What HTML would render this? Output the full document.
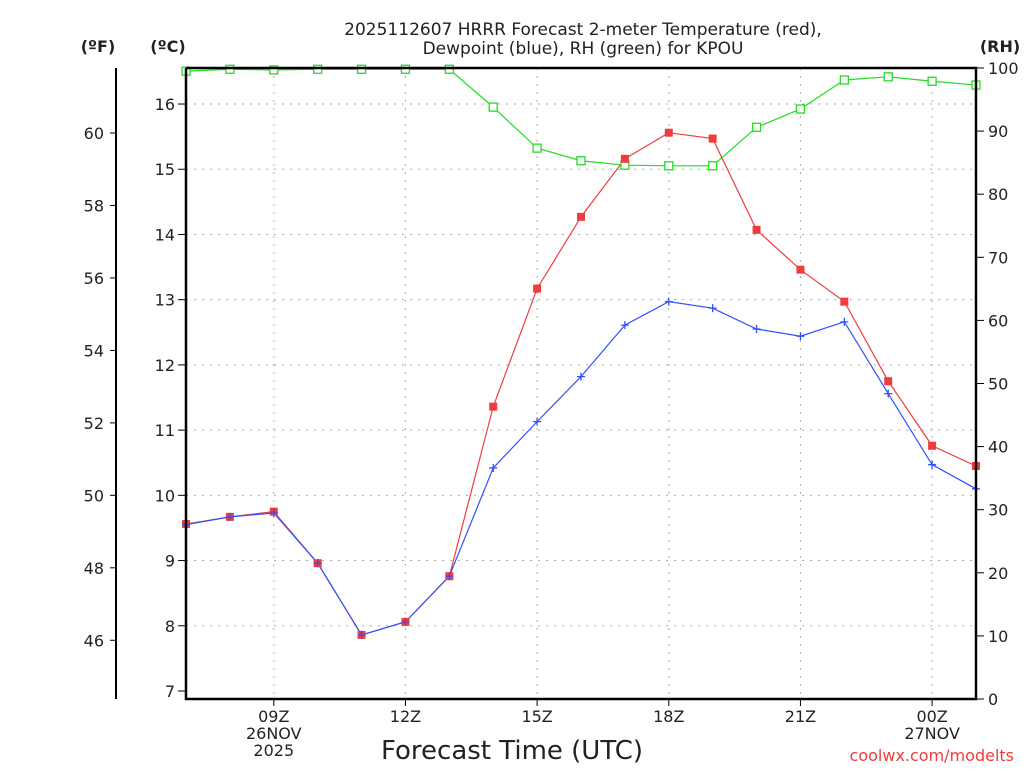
<!DOCTYPE html>
<html><head><meta charset="utf-8"><style>
body{margin:0;background:#fff;width:1024px;height:768px;overflow:hidden}
text{font-family:"DejaVu Sans","Liberation Sans",sans-serif;fill:#222}
</style></head><body>
<svg id="c" width="1024" height="768">
<g id="grid"></g>
<g id="series"></g>
<g id="axes"></g>
<text x="583" y="35" text-anchor="middle" font-size="17">2025112607 HRRR Forecast 2-meter Temperature (red),</text>
<text x="583" y="54" text-anchor="middle" font-size="17">Dewpoint (blue), RH (green) for KPOU</text>
<text x="98" y="52" text-anchor="middle" font-size="16" font-weight="bold">(ºF)</text>
<text x="168" y="52" text-anchor="middle" font-size="16" font-weight="bold">(ºC)</text>
<text x="1000" y="52" text-anchor="middle" font-size="16" font-weight="bold">(RH)</text>
<text x="512" y="759" text-anchor="middle" font-size="26">Forecast Time (UTC)</text>
<text x="1014" y="761" text-anchor="end" font-size="16" style="fill:#f03c3c">coolwx.com/modelts</text>
</svg>
<script>
const hours=[7,8,9,10,11,12,13,14,15,16,17,18,19,20,21,22,23,24,25];
const tempC=[9.56,9.67,9.75,8.96,7.86,8.06,8.76,11.36,13.17,14.27,15.16,15.56,15.47,14.07,13.46,12.97,11.75,10.76,10.45];
const dewC=[9.55,9.67,9.73,8.96,7.86,8.06,8.76,10.42,11.13,11.82,12.61,12.97,12.87,12.55,12.44,12.66,11.56,10.47,10.10];
const rh=[99.5,99.8,99.7,99.8,99.8,99.8,99.8,93.8,87.3,85.3,84.6,84.5,84.5,90.6,93.5,98.1,98.6,97.9,97.3];
const cTicks=[7,8,9,10,11,12,13,14,15,16];
const fTicks=[46,48,50,52,54,56,58,60];
const rhTicks=[0,10,20,30,40,50,60,70,80,90,100];
const xTicks=[9,12,15,18,21,24];
const xLabels=[["09Z","26NOV","2025"],["12Z"],["15Z"],["18Z"],["21Z"],["00Z","27NOV"]];
const L=186,R=976,T=68,B=699;
const X=h=>L+(h-7)*(R-L)/18;
const YC=c=>691-(c-7)*65.22;
const YF=f=>YC((f-32)/1.8);
const YR=r=>B-r*(B-T)/100;
const ns="http://www.w3.org/2000/svg";
function mk(p,t,a){const e=document.createElementNS(ns,t);for(const k in a)e.setAttribute(k,a[k]);document.getElementById(p).appendChild(e);return e;}
xTicks.forEach(h=>{const e=mk('grid','line',{x1:X(h),x2:X(h),y1:T,y2:B,stroke:'#aaa','stroke-dasharray':'2,6'});

});
cTicks.forEach(c=>{if(c===7)return;const e=mk('grid','line',{x1:L,x2:R,y1:YC(c),y2:YC(c),stroke:'#aaa','stroke-dasharray':'2,6'});

});
function line(arr,yf,col,name){const pts=hours.map((h,i)=>X(h)+','+yf(arr[i])).join(' ');
const e=mk('series','polyline',{points:pts,fill:'none',stroke:col,'stroke-width':1.2});

}
line(rh,YR,'#22dd22','rh');line(tempC,YC,'#f03c3c','temperature');line(dewC,YC,'#3050ff','dewpoint');
hours.forEach((h,i)=>{
const g=mk('series','rect',{x:X(h)-4,y:YR(rh[i])-4,width:8,height:8,fill:'#fff',stroke:'#22dd22','stroke-width':1.3});


const r=mk('series','rect',{x:X(h)-4,y:YC(tempC[i])-4,width:8,height:8,fill:'#f03c3c'});


const x=X(h),y=YC(dewC[i]);
const b=mk('series','path',{d:`M${x-4} ${y}H${x+4}M${x} ${y-4}V${y+4}`,stroke:'#3050ff','stroke-width':1.3});

});
const f=mk('axes','path',{d:`M${L} ${T}V${B}H${R}V${T}H${L}`,fill:'none',stroke:'#000','stroke-width':2.5});


const fa=mk('axes','line',{x1:116,x2:116,y1:T,y2:B,stroke:'#000','stroke-width':2});


function lab(x,y,txt,anc,name){const t=mk('axes','text',{x:x,y:y,'text-anchor':anc,'font-size':16});t.textContent=txt;

}
cTicks.forEach(c=>{mk('axes','line',{x1:L-8,x2:L,y1:YC(c),y2:YC(c),stroke:'#000'});lab(175,YC(c)+6,c,'end','celsius-tick-label');});
fTicks.forEach(v=>{mk('axes','line',{x1:110,x2:116,y1:YF(v),y2:YF(v),stroke:'#000'});lab(104,YF(v)+6,v,'end','fahrenheit-tick-label');});
rhTicks.forEach(v=>{mk('axes','line',{x1:R,x2:R+8,y1:YR(v),y2:YR(v),stroke:'#000'});lab(988,YR(v)+6,v,'start','rh-tick-label');});
xTicks.forEach((h,i)=>{mk('axes','line',{x1:X(h),x2:X(h),y1:B,y2:B+7,stroke:'#000'});
xLabels[i].forEach((s,j)=>lab(X(h),722+j*17,s,'middle','x-tick-label'));});
</script>
</body></html>
